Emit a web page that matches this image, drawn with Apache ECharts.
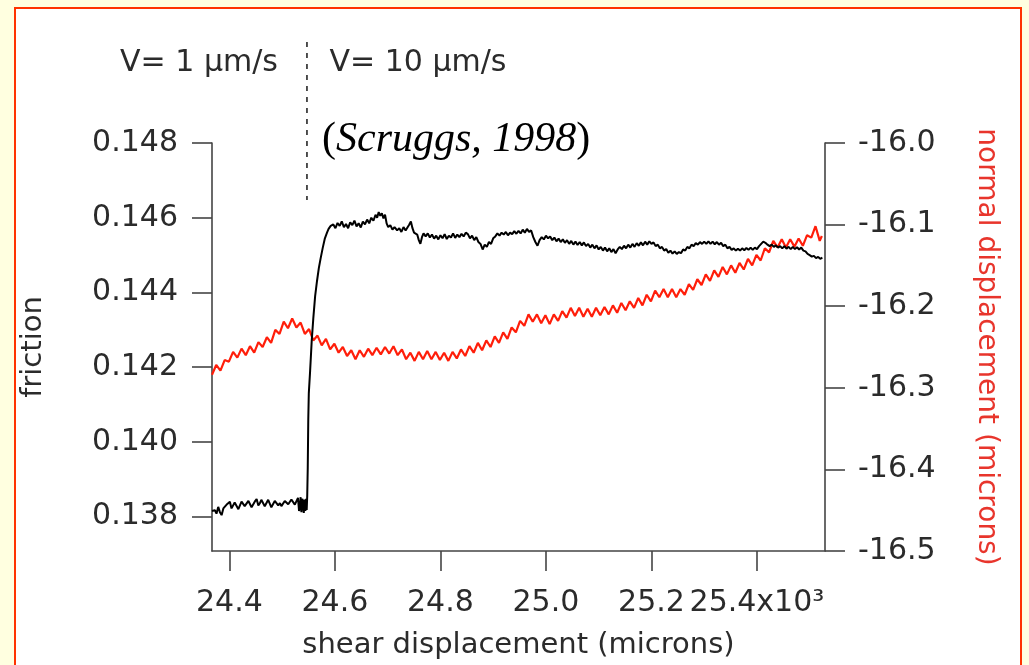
<!DOCTYPE html>
<html>
<head>
<meta charset="utf-8">
<script src="https://cdn.jsdelivr.net/npm/echarts@6/dist/echarts.min.js"></script>
<style>
html,body{margin:0;padding:0;background:#ffffe0;}
#chart{width:1029px;height:665px;}
</style>
</head>
<body>
<div id="chart"></div>
<script>
// ---- data (shear displacement in 10^3 microns) ----
var frictionShear = [24.367,24.3725,24.3755,24.3788,24.382,24.3852,24.3885,24.3915,24.396,24.4009,24.404,24.4066,24.41,24.4136,24.417,24.4199,24.423,24.4256,24.429,24.4326,24.436,24.4389,24.442,24.4445,24.448,24.4516,24.4548,24.4578,24.4605,24.4635,24.467,24.4705,24.4735,24.4768,24.4795,24.4825,24.486,24.4895,24.4925,24.4957,24.4985,24.5014,24.505,24.5084,24.5115,24.5147,24.5175,24.5204,24.524,24.5274,24.53,24.532,24.5336,24.535,24.5365,24.538,24.5393,24.541,24.5425,24.544,24.5455,24.5465,
24.5475,24.5485,24.5495,24.5505,24.553,24.556,24.559,24.5625,24.566,24.5695,24.573,24.577,24.581,24.585,24.588,24.592,
24.597,24.601,24.605,24.609,24.613,24.617,24.621,24.625,24.629,24.633,24.637,24.641,24.645,24.649,24.653,24.657,24.661,24.665,24.669,24.673,24.677,24.680,24.683,24.686,24.689,24.692,24.695,24.698,24.701,24.705,24.709,24.713,24.718,24.722,24.726,24.730,24.734,24.737,24.741,24.744,24.747,24.750,24.753,24.756,24.759,24.762,24.765,24.768,24.772,24.776,24.780,24.784,24.788,24.792,24.796,24.800,24.804,24.808,24.812,24.816,24.820,24.824,24.828,24.832,24.836,24.840,24.844,24.848,24.852,24.856,24.860,24.864,24.868,24.872,24.876,24.880,24.884,24.888,24.892,24.896,24.900,24.904,24.908,24.912,24.916,24.920,24.924,24.928,24.932,24.936,24.940,24.944,24.948,24.952,24.956,24.960,24.964,24.968,24.972,24.976,24.980,24.984,24.988,24.992,24.996,
25.000,25.004,25.008,25.012,25.016,25.020,25.024,25.028,25.032,25.036,25.040,25.044,25.048,25.052,25.056,25.060,25.064,25.068,25.072,25.076,25.080,25.084,25.088,25.092,25.096,25.100,25.104,25.108,25.112,25.116,25.120,25.124,25.128,25.132,25.136,25.140,25.144,25.148,25.152,25.156,25.160,25.164,25.168,25.172,25.176,25.180,25.184,25.188,25.192,25.196,25.200,25.204,25.208,25.212,25.216,25.220,25.224,25.228,25.232,25.236,25.240,25.244,25.248,25.252,25.256,25.260,25.264,25.268,25.272,25.276,25.280,25.284,25.288,25.292,25.296,25.300,25.304,25.308,25.312,25.316,25.320,25.324,25.328,25.332,25.336,25.340,25.344,25.348,25.352,25.356,25.360,25.364,25.368,25.372,25.376,25.380,25.384,25.388,25.392,25.396,25.400,25.404,25.408,25.412,25.416,25.420,25.424,25.428,25.432,25.436,25.440,25.444,25.448,25.452,25.456,25.460,25.464,25.468,25.472,25.476,25.480,25.484,25.488,25.492,25.496,25.500,25.504,25.508,25.512,25.516,25.520,25.524];
var frictionValue = [0.13815,0.13817,0.13808,0.13826,0.13812,0.13804,0.13822,0.13823,0.13834,0.13840,0.13822,0.13826,0.13838,0.13836,0.13820,0.13823,0.13840,0.13836,0.13828,0.13831,0.13842,0.13840,0.13825,0.13826,0.13840,0.13847,0.13830,0.13836,0.13845,0.13842,0.13828,0.13831,0.13845,0.13840,0.13825,0.13826,0.13842,0.13840,0.13830,0.13836,0.13828,0.13831,0.13842,0.13840,0.13833,0.13836,0.13846,0.13842,0.13832,0.13836,0.13850,0.13815,0.13826,0.13852,0.13812,0.13848,0.13840,0.13810,0.13846,0.13815,0.13848,0.13818,
0.13855,0.13930,0.14060,0.14130,0.14190,0.14270,0.14330,0.14390,0.14430,0.14465,0.14492,0.14520,0.14545,0.14560,0.14570,0.14578,
0.14582,0.14572,0.14586,0.14578,0.14590,0.14575,0.14583,0.14572,0.14588,0.14580,0.14592,0.14577,0.14585,0.14574,0.14590,0.14582,0.14595,0.14585,0.14600,0.14592,0.14608,0.14600,0.14615,0.14605,0.14612,0.14598,0.14608,0.14585,0.14575,0.14580,0.14568,0.14575,0.14566,0.14572,0.14562,0.14575,0.14566,0.14570,0.14582,0.14590,0.14572,0.14560,0.14565,0.14555,0.14540,0.14530,0.14548,0.14558,0.14550,0.14558,0.14547,0.14555,0.14544,0.14552,0.14542,0.14553,0.14545,0.14556,0.14543,0.14552,0.14547,0.14558,0.14546,0.14555,0.14548,0.14557,0.14550,0.14560,0.14556,0.14545,0.14552,0.14540,0.14548,0.14535,0.14530,0.14515,0.14528,0.14522,0.14535,0.14530,0.14545,0.14550,0.14558,0.14552,0.14560,0.14555,0.14562,0.14553,0.14560,0.14556,0.14564,0.14557,0.14565,0.14558,0.14568,0.14560,0.14570,0.14562,0.14566,0.14548,0.14535,0.14525,0.14540,0.14548,0.14542,
0.14552,0.14545,0.14550,0.14540,0.14547,0.14537,0.14544,0.14535,0.14542,0.14533,0.14540,0.14530,0.14538,0.14528,0.14536,0.14527,0.14535,0.14526,0.14534,0.14524,0.14530,0.14520,0.14528,0.14518,0.14526,0.14515,0.14522,0.14512,0.14520,0.14510,0.14518,0.14508,0.14516,0.14505,0.14515,0.14522,0.14516,0.14525,0.14518,0.14528,0.14520,0.14530,0.14522,0.14532,0.14525,0.14534,0.14526,0.14536,0.14528,0.14537,0.14530,0.14534,0.14524,0.14528,0.14518,0.14522,0.14512,0.14516,0.14506,0.14512,0.14504,0.14510,0.14503,0.14508,0.14505,0.14515,0.14512,0.14522,0.14518,0.14528,0.14524,0.14532,0.14528,0.14535,0.14530,0.14536,0.14530,0.14537,0.14530,0.14536,0.14529,0.14535,0.14528,0.14533,0.14524,0.14528,0.14518,0.14522,0.14514,0.14518,0.14512,0.14517,0.14512,0.14518,0.14513,0.14519,0.14514,0.14520,0.14514,0.14520,0.14516,0.14524,0.14530,0.14536,0.14533,0.14528,0.14524,0.14528,0.14522,0.14526,0.14520,0.14524,0.14518,0.14524,0.14517,0.14522,0.14516,0.14522,0.14516,0.14521,0.14515,0.14520,0.14512,0.14510,0.14503,0.14500,0.14496,0.14498,0.14492,0.14495,0.14490,0.14493];

var normalShear = [24.367,24.375,24.383,24.391,24.399,24.407,24.415,24.423,24.431,24.439,24.447,24.455,24.463,24.471,24.479,24.487,24.495,24.503,24.511,24.519,24.527,24.535,24.543,24.551,24.559,24.567,24.575,24.583,24.591,24.599,24.607,24.615,24.623,24.631,24.639,24.647,24.655,24.663,24.671,24.679,24.687,24.695,24.703,24.711,24.719,24.727,24.735,24.743,24.751,24.759,24.767,24.775,24.783,24.791,24.799,24.807,24.815,24.823,24.831,24.839,24.847,24.855,24.863,24.871,24.879,24.887,24.895,24.903,24.911,24.919,24.927,24.935,24.943,24.951,24.959,24.967,24.975,24.983,24.991,24.999,25.007,25.015,25.023,25.031,25.039,25.047,25.055,25.063,25.071,25.079,25.087,25.095,25.103,25.111,25.119,25.127,25.135,25.143,25.151,25.159,25.167,25.175,25.183,25.191,25.199,25.207,25.215,25.223,25.231,25.239,25.247,25.255,25.263,25.271,25.279,25.287,25.295,25.303,25.311,25.319,25.327,25.335,25.343,25.351,25.359,25.367,25.375,25.383,25.391,25.399,25.407,25.415,25.423,25.431,25.439,25.447,25.455,25.463,25.471,25.479,25.487,25.495,25.503,25.511,25.519,25.523];
var normalValue = [-16.284,-16.272,-16.279,-16.266,-16.268,-16.256,-16.263,-16.252,-16.260,-16.249,-16.257,-16.244,-16.250,-16.238,-16.245,-16.229,-16.234,-16.219,-16.227,-16.215,-16.226,-16.220,-16.234,-16.228,-16.242,-16.236,-16.248,-16.240,-16.253,-16.246,-16.257,-16.250,-16.261,-16.254,-16.265,-16.254,-16.262,-16.252,-16.260,-16.251,-16.259,-16.250,-16.258,-16.249,-16.260,-16.253,-16.265,-16.257,-16.267,-16.256,-16.265,-16.255,-16.265,-16.256,-16.266,-16.257,-16.267,-16.256,-16.264,-16.253,-16.261,-16.249,-16.257,-16.245,-16.254,-16.242,-16.250,-16.237,-16.245,-16.232,-16.240,-16.226,-16.232,-16.218,-16.224,-16.210,-16.219,-16.210,-16.221,-16.211,-16.222,-16.210,-16.218,-16.206,-16.214,-16.202,-16.212,-16.202,-16.213,-16.203,-16.213,-16.202,-16.211,-16.201,-16.210,-16.199,-16.208,-16.196,-16.205,-16.194,-16.202,-16.190,-16.199,-16.186,-16.194,-16.181,-16.189,-16.179,-16.189,-16.179,-16.189,-16.179,-16.186,-16.173,-16.180,-16.167,-16.174,-16.161,-16.169,-16.156,-16.164,-16.152,-16.161,-16.150,-16.159,-16.147,-16.155,-16.142,-16.150,-16.137,-16.144,-16.129,-16.134,-16.120,-16.128,-16.118,-16.128,-16.118,-16.127,-16.117,-16.126,-16.113,-16.116,-16.102,-16.120,-16.114];

var xTicks = [24.4, 24.6, 24.8, 25.0, 25.2, 25.4];
var frictionTicks = [0.138, 0.140, 0.142, 0.144, 0.146, 0.148];
var velocityStep = 24.547; // where V changes from 1 to 10 um/s

function pairs(xs, ys) { return xs.map(function (x, i) { return [x, ys[i]]; }); }

var chart = echarts.init(document.getElementById('chart'));
var FONT = 'DejaVu Sans';
var AX = '#444';
var TXT = '#2b2b2b';

var option = {
  animation: false,
  backgroundColor: '#ffffe0',
  grid: { left: 212, right: 204, top: 143, bottom: 114 },
  xAxis: {
    type: 'value', min: 24.367, max: 25.529,
    name: 'shear displacement (microns)', nameLocation: 'middle', nameGap: 80,
    nameTextStyle: { fontFamily: FONT, fontSize: 29, color: TXT },
    axisLine: { show: true, onZero: false, lineStyle: { color: AX, width: 1.6 } },
    axisTick: { show: true, inside: false, length: 20, customValues: xTicks, lineStyle: { color: AX, width: 1.6 } },
    axisLabel: { customValues: xTicks, margin: 37, fontFamily: FONT, fontSize: 30, color: TXT,
      formatter: function (v) { return Math.abs(v - 25.4) < 1e-9 ? '25.4x10\u00B3' : v.toFixed(1); } },
    splitLine: { show: false }
  },
  yAxis: [{
    type: 'value', position: 'left', min: 0.13708, max: 0.148,
    name: 'friction', nameLocation: 'middle', nameGap: 164,
    nameTextStyle: { fontFamily: FONT, fontSize: 29, color: TXT },
    axisLine: { show: true, onZero: false, lineStyle: { color: AX, width: 1.6 } },
    axisTick: { show: true, inside: false, length: 20, customValues: frictionTicks, lineStyle: { color: AX, width: 1.6 } },
    axisLabel: { customValues: frictionTicks, margin: 34, fontFamily: FONT, fontSize: 30, color: TXT,
      formatter: function (v) { return v.toFixed(3); } },
    splitLine: { show: false }
  }, {
    type: 'value', position: 'right', min: -16.5, max: -16.0, interval: 0.1,
    name: 'normal displacement (microns)', nameLocation: 'middle', nameGap: 147, nameRotate: -90,
    nameTextStyle: { fontFamily: FONT, fontSize: 28, color: '#e8352c' },
    axisLine: { show: true, onZero: false, lineStyle: { color: AX, width: 1.6 } },
    axisTick: { show: true, inside: false, length: 20, lineStyle: { color: AX, width: 1.6 } },
    axisLabel: { margin: 33, fontFamily: FONT, fontSize: 30, color: TXT,
      formatter: function (v) { return v.toFixed(1); } },
    splitLine: { show: false }
  }],
  series: [{
    name: 'normal displacement', type: 'line', yAxisIndex: 1, data: pairs(normalShear, normalValue),
    showSymbol: false, symbol: 'none', lineStyle: { color: '#ff1e0a', width: 2.2 }, z: 2
  }, {
    name: 'friction', type: 'line', yAxisIndex: 0, data: pairs(frictionShear, frictionValue),
    showSymbol: false, symbol: 'none', lineStyle: { color: '#000', width: 2 }, z: 3
  }]
};
chart.setOption(option);

var vx = chart.convertToPixel({ xAxisIndex: 0 }, velocityStep);
chart.setOption({
  graphic: [
    { type: 'rect', z: -10, silent: true, shape: { x: 15, y: 8, width: 1006, height: 700 },
      style: { fill: '#ffffff', stroke: '#ff3300', lineWidth: 2 } },
    { type: 'line', z: 5, shape: { x1: vx, y1: 42, x2: vx, y2: 200 },
      style: { stroke: '#333', lineWidth: 1.7, lineDash: [5, 6] } },
    { type: 'text', z: 5, x: 199, y: 63,
      style: { text: 'V= 1 \u03BCm/s', fontFamily: FONT, fontSize: 30, fill: TXT, align: 'center', verticalAlign: 'middle' } },
    { type: 'text', z: 5, x: 418, y: 63,
      style: { text: 'V= 10 \u03BCm/s', fontFamily: FONT, fontSize: 30, fill: TXT, align: 'center', verticalAlign: 'middle' } },
    { type: 'text', z: 5, x: 322, y: 140,
      style: { text: '{n|(}{i|Scruggs, 1998}{n|)}', align: 'left', verticalAlign: 'middle',
        rich: {
          n: { fontFamily: 'Liberation Serif', fontSize: 42, fill: '#000' },
          i: { fontFamily: 'Liberation Serif', fontSize: 42, fontStyle: 'italic', fill: '#000' }
        } } }
  ]
});
</script>
</body>
</html>
